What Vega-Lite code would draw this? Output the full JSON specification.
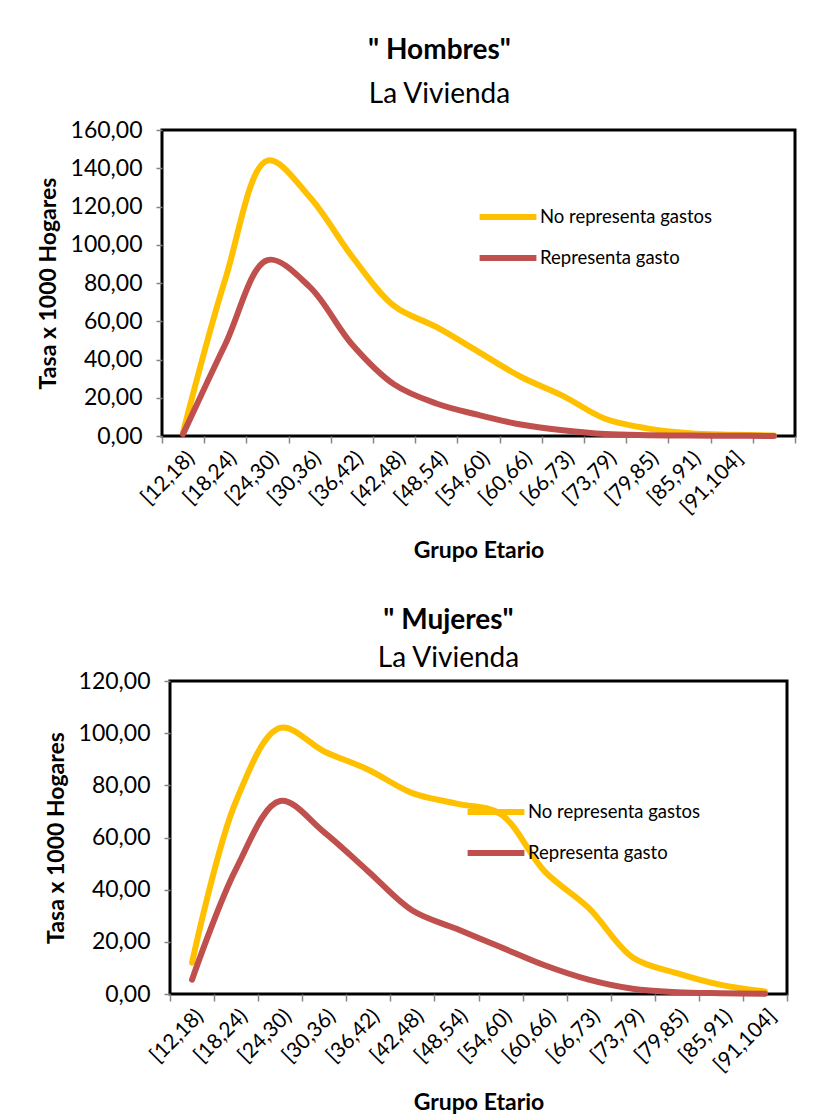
{
  "$schema": "https://vega.github.io/schema/vega-lite/v6.json",
  "background": "white",
  "padding": {"left": 35, "top": 35, "right": 5, "bottom": 5},
  "bounds": "flush",
  "center": true,
  "spacing": 245,
  "config": {
    "font": "Lato",
    "view": {"stroke": "#000000", "strokeWidth": 3},
    "axis": {"labelFont": "Lato", "labelColor": "#000000", "titleColor": "#000000", "titleFont": "Lato", "tickColor": "#868686", "tickWidth": 1.5, "domain": false, "grid": false, "titleFontWeight": "bold"},
    "legend": {"labelFont": "Lato", "labelColor": "#000000", "labelFontSize": 18.5, "labelLimit": 0, "symbolType": "M-1.42,0H1.42", "symbolSize": 1600, "symbolStrokeWidth": 6, "rowPadding": 6, "labelOffset": 9, "title": null}
  },
  "resolve": {"scale": {"x": "independent", "y": "independent", "color": "independent"}, "legend": {"color": "independent"}},
  "datasets": {
    "hombres": [
      {"grupo": "[12,18)", "serie": "No representa gastos", "tasa": 2},
      {"grupo": "[18,24)", "serie": "No representa gastos", "tasa": 82},
      {"grupo": "[24,30)", "serie": "No representa gastos", "tasa": 144},
      {"grupo": "[30,36)", "serie": "No representa gastos", "tasa": 125},
      {"grupo": "[36,42)", "serie": "No representa gastos", "tasa": 94},
      {"grupo": "[42,48)", "serie": "No representa gastos", "tasa": 68},
      {"grupo": "[48,54)", "serie": "No representa gastos", "tasa": 57},
      {"grupo": "[54,60)", "serie": "No representa gastos", "tasa": 44},
      {"grupo": "[60,66)", "serie": "No representa gastos", "tasa": 31},
      {"grupo": "[66,73)", "serie": "No representa gastos", "tasa": 21},
      {"grupo": "[73,79)", "serie": "No representa gastos", "tasa": 9},
      {"grupo": "[79,85)", "serie": "No representa gastos", "tasa": 4},
      {"grupo": "[85,91)", "serie": "No representa gastos", "tasa": 1.5},
      {"grupo": "[91,104]", "serie": "No representa gastos", "tasa": 0.7},
      {"grupo": "", "serie": "No representa gastos", "tasa": 0.3},
      {"grupo": "[12,18)", "serie": "Representa gasto", "tasa": 1},
      {"grupo": "[18,24)", "serie": "Representa gasto", "tasa": 48},
      {"grupo": "[24,30)", "serie": "Representa gasto", "tasa": 92},
      {"grupo": "[30,36)", "serie": "Representa gasto", "tasa": 78},
      {"grupo": "[36,42)", "serie": "Representa gasto", "tasa": 48},
      {"grupo": "[42,48)", "serie": "Representa gasto", "tasa": 27},
      {"grupo": "[48,54)", "serie": "Representa gasto", "tasa": 17},
      {"grupo": "[54,60)", "serie": "Representa gasto", "tasa": 11},
      {"grupo": "[60,66)", "serie": "Representa gasto", "tasa": 6},
      {"grupo": "[66,73)", "serie": "Representa gasto", "tasa": 3},
      {"grupo": "[73,79)", "serie": "Representa gasto", "tasa": 1},
      {"grupo": "[79,85)", "serie": "Representa gasto", "tasa": 0.4},
      {"grupo": "[85,91)", "serie": "Representa gasto", "tasa": 0.2},
      {"grupo": "[91,104]", "serie": "Representa gasto", "tasa": 0.1},
      {"grupo": "", "serie": "Representa gasto", "tasa": 0.05}
    ],
    "mujeres": [
      {"grupo": "[12,18)", "serie": "No representa gastos", "tasa": 12},
      {"grupo": "[18,24)", "serie": "No representa gastos", "tasa": 74},
      {"grupo": "[24,30)", "serie": "No representa gastos", "tasa": 102},
      {"grupo": "[30,36)", "serie": "No representa gastos", "tasa": 93},
      {"grupo": "[36,42)", "serie": "No representa gastos", "tasa": 86},
      {"grupo": "[42,48)", "serie": "No representa gastos", "tasa": 77},
      {"grupo": "[48,54)", "serie": "No representa gastos", "tasa": 73},
      {"grupo": "[54,60)", "serie": "No representa gastos", "tasa": 69},
      {"grupo": "[60,66)", "serie": "No representa gastos", "tasa": 47},
      {"grupo": "[66,73)", "serie": "No representa gastos", "tasa": 33},
      {"grupo": "[73,79)", "serie": "No representa gastos", "tasa": 14},
      {"grupo": "[79,85)", "serie": "No representa gastos", "tasa": 8},
      {"grupo": "[85,91)", "serie": "No representa gastos", "tasa": 3.5},
      {"grupo": "[91,104]", "serie": "No representa gastos", "tasa": 1},
      {"grupo": "[12,18)", "serie": "Representa gasto", "tasa": 5.5},
      {"grupo": "[18,24)", "serie": "Representa gasto", "tasa": 48},
      {"grupo": "[24,30)", "serie": "Representa gasto", "tasa": 74},
      {"grupo": "[30,36)", "serie": "Representa gasto", "tasa": 62},
      {"grupo": "[36,42)", "serie": "Representa gasto", "tasa": 47},
      {"grupo": "[42,48)", "serie": "Representa gasto", "tasa": 32},
      {"grupo": "[48,54)", "serie": "Representa gasto", "tasa": 25},
      {"grupo": "[54,60)", "serie": "Representa gasto", "tasa": 18},
      {"grupo": "[60,66)", "serie": "Representa gasto", "tasa": 11},
      {"grupo": "[66,73)", "serie": "Representa gasto", "tasa": 5.5},
      {"grupo": "[73,79)", "serie": "Representa gasto", "tasa": 2},
      {"grupo": "[79,85)", "serie": "Representa gasto", "tasa": 0.7},
      {"grupo": "[85,91)", "serie": "Representa gasto", "tasa": 0.3},
      {"grupo": "[91,104]", "serie": "Representa gasto", "tasa": 0.1}
    ]
  },
  "vconcat": [
    {
      "title": {"text": "\" Hombres\"", "subtitle": "La Vivienda", "font": "Lato", "fontSize": 28, "fontWeight": "bold", "color": "#000000", "subtitleFont": "Lato", "subtitleFontSize": 28, "subtitleColor": "#000000", "anchor": "middle", "frame": "group", "dx": -39, "offset": 10, "subtitlePadding": 16},
      "width": 633,
      "height": 306,
      "data": {"name": "hombres"},
      "mark": {"type": "line", "interpolate": "catmull-rom", "strokeWidth": 6, "strokeCap": "round"},
      "encoding": {
        "x": {"field": "grupo", "type": "ordinal",
              "scale": {"type": "band", "domain": ["[12,18)", "[18,24)", "[24,30)", "[30,36)", "[36,42)", "[42,48)", "[48,54)", "[54,60)", "[60,66)", "[66,73)", "[73,79)", "[79,85)", "[85,91)", "[91,104]", ""], "paddingInner": 0, "paddingOuter": 0},
              "axis": {"title": "Grupo Etario", "labelAngle": -45, "tickBand": "extent", "tickSize": 7, "labelFontSize": 21, "titleFontSize": 23, "titlePadding": 22, "labelPadding": 4}},
        "y": {"field": "tasa", "type": "quantitative",
              "scale": {"domain": [0, 160]},
              "axis": {"title": "Tasa x 1000 Hogares", "values": [0, 20, 40, 60, 80, 100, 120, 140, 160], "labelExpr": "replace(format(datum.value, '.2f'), '.', ',')", "labelFontSize": 23, "titleFontSize": 23, "tickSize": 6, "labelPadding": 14, "titlePadding": 10}},
        "color": {"field": "serie", "type": "nominal",
                  "scale": {"domain": ["No representa gastos", "Representa gasto"], "range": ["#FFC000", "#C0504D"]},
                  "legend": {"orient": "none", "legendX": 323, "legendY": 64}}
      }
    },
    {
      "title": {"text": "\" Mujeres\"", "subtitle": "La Vivienda", "font": "Lato", "fontSize": 28, "fontWeight": "bold", "color": "#000000", "subtitleFont": "Lato", "subtitleFontSize": 28, "subtitleColor": "#000000", "anchor": "middle", "frame": "group", "dx": -30, "offset": -3, "subtitlePadding": 10},
      "width": 617,
      "height": 313,
      "data": {"name": "mujeres"},
      "mark": {"type": "line", "interpolate": "catmull-rom", "strokeWidth": 6, "strokeCap": "round"},
      "encoding": {
        "x": {"field": "grupo", "type": "ordinal",
              "scale": {"type": "band", "domain": ["[12,18)", "[18,24)", "[24,30)", "[30,36)", "[36,42)", "[42,48)", "[48,54)", "[54,60)", "[60,66)", "[66,73)", "[73,79)", "[79,85)", "[85,91)", "[91,104]"], "paddingInner": 0, "paddingOuter": 0},
              "axis": {"title": "Grupo Etario", "labelAngle": -45, "tickBand": "extent", "tickSize": 7, "labelFontSize": 21, "titleFontSize": 23, "titlePadding": 16, "labelPadding": 4}},
        "y": {"field": "tasa", "type": "quantitative",
              "scale": {"domain": [0, 120]},
              "axis": {"title": "Tasa x 1000 Hogares", "values": [0, 20, 40, 60, 80, 100, 120], "labelExpr": "replace(format(datum.value, '.2f'), '.', ',')", "labelFontSize": 23, "titleFontSize": 23, "tickSize": 6, "labelPadding": 14, "titlePadding": 10}},
        "color": {"field": "serie", "type": "nominal",
                  "scale": {"domain": ["No representa gastos", "Representa gasto"], "range": ["#FFC000", "#C0504D"]},
                  "legend": {"orient": "none", "legendX": 303, "legendY": 108}}
      }
    }
  ]
}
